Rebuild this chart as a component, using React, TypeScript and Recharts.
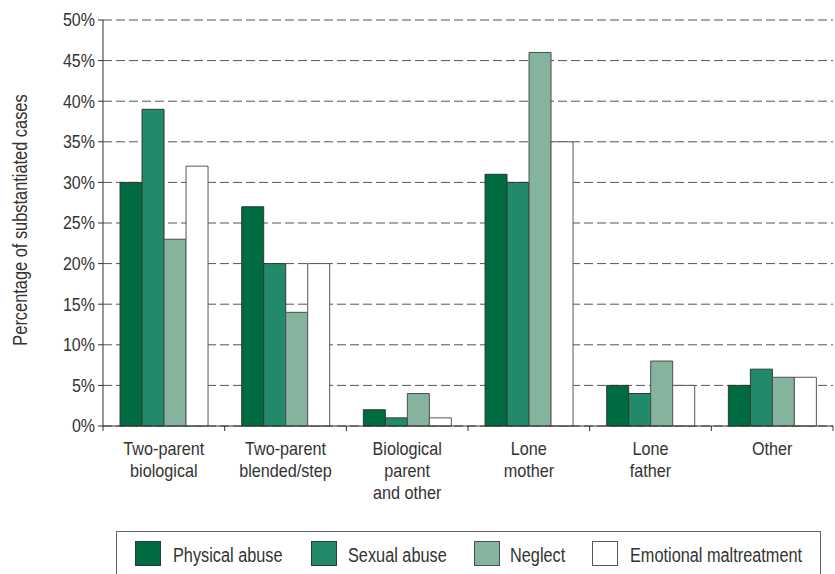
import React from 'react';
import { BarChart, Bar, XAxis, YAxis, CartesianGrid, Legend } from 'recharts';

const categories = [
  'Two-parent\nbiological',
  'Two-parent\nblended/step',
  'Biological\nparent\nand other',
  'Lone\nmother',
  'Lone\nfather',
  'Other',
];
const physicalAbuse = [30, 27, 2, 31, 5, 5];
const sexualAbuse = [39, 20, 1, 30, 4, 7];
const neglect = [23, 14, 4, 46, 8, 6];
const emotionalMaltreatment = [32, 20, 1, 35, 5, 6];
const yTicks = [0, 5, 10, 15, 20, 25, 30, 35, 40, 45, 50];

const seriesNames = ['Physical abuse', 'Sexual abuse', 'Neglect', 'Emotional maltreatment'];
const seriesColors = ['#006a40', '#228a6a', '#84b39e', '#ffffff'];
const seriesStrokes = ['#2e3a33', '#2e3a33', '#4a4f4c', '#555555'];

const data = categories.map((c, i) => ({
  category: c,
  physical: physicalAbuse[i],
  sexual: sexualAbuse[i],
  neglect: neglect[i],
  emotional: emotionalMaltreatment[i],
}));

const FONT = '"Liberation Sans", Arial, sans-serif';
const TEXT = '#333333';

const CategoryTick = (props: any) => {
  const { x, y, payload, index, visibleTicksCount } = props;
  const lines = String(payload.value).split('\n');
  const half = payload.offset ?? 0;
  return (
    <g>
      <line x1={x - half} x2={x - half} y1={y} y2={y + 5} stroke="#333" />
      {index === visibleTicksCount - 1 && (
        <line x1={x + half} x2={x + half} y1={y} y2={y + 5} stroke="#333" />
      )}
      <text
        transform={`translate(${x},${y + 29}) scale(0.9,1)`}
        textAnchor="middle"
        fill={TEXT}
        fontFamily={FONT}
        fontSize={18}
      >
        {lines.map((l, i) => (
          <tspan key={i} x={0} dy={i === 0 ? 0 : 22}>
            {l}
          </tspan>
        ))}
      </text>
    </g>
  );
};

const YTick = (props: any) => {
  const { x, y, payload } = props;
  return (
    <text
      transform={`translate(${x},${y}) scale(0.89,1)`}
      textAnchor="end"
      dy="0.36em"
      fill={TEXT}
      fontFamily={FONT}
      fontSize={18}
    >
      {`${payload.value}%`}
    </text>
  );
};

const legendSquareX = [19, 195, 358, 476];
const legendTextX = [57, 232, 394, 514];

const renderLegend = () => (
  <div
    style={{
      boxSizing: 'border-box',
      width: 705,
      height: 48,
      borderTop: '1.5px solid #666',
      borderLeft: '1.5px solid #666',
      borderRight: '1.5px solid #666',
      position: 'relative',
    }}
  >
    <svg width={705} height={48} style={{ position: 'absolute', left: -1, top: -1 }}>
      {seriesNames.map((n, i) => (
        <g key={n}>
          <rect
            x={legendSquareX[i] + 0.5}
            y={10.5}
            width={25}
            height={24}
            fill={seriesColors[i]}
            stroke={seriesStrokes[i]}
          />
          <text
            transform={`translate(${legendTextX[i]},31) scale(0.815,1)`}
            fill={TEXT}
            fontFamily={FONT}
            fontSize={20}
          >
            {n}
          </text>
        </g>
      ))}
    </svg>
  </div>
);

const YLabel = (props: any) => {
  const { viewBox } = props;
  const cx = viewBox.x + 27;
  const cy = viewBox.y + viewBox.height / 2 - 3;
  return (
    <text
      transform={`translate(${cx},${cy}) rotate(-90) scale(0.82,1)`}
      textAnchor="middle"
      fill={TEXT}
      fontFamily={FONT}
      fontSize={20}
    >
      Percentage of substantiated cases
    </text>
  );
};

export default function App() {
  return (
    <div style={{ position: 'absolute', left: 0, top: 0, width: 835, height: 574, background: '#fff', overflow: 'hidden' }}>
      <BarChart
        width={835}
        height={574}
        data={data}
        margin={{ top: 20, right: 2, bottom: 30, left: 0 }}
        barCategoryGap="14%"
        barGap={0}
      >
        <CartesianGrid vertical={false} stroke="#555" strokeDasharray="9 4" />
        <XAxis
          dataKey="category"
          interval={0}
          height={70}
          tickSize={0}
          tickMargin={0}
          tickLine={false}
          axisLine={{ stroke: '#333' }}
          tick={<CategoryTick />}
        />
        <YAxis
          width={103}
          domain={[0, 50]}
          ticks={yTicks}
          interval={0}
          tickSize={5}
          tickMargin={3}
          axisLine={{ stroke: '#333' }}
          tickLine={{ stroke: '#333' }}
          tick={<YTick />}
          label={<YLabel />}
        />
        <Legend
          verticalAlign="bottom"
          content={renderLegend}
          wrapperStyle={{ position: 'absolute', left: 116, top: 531, bottom: 'auto', width: 705, height: 48 }}
        />
        <Bar dataKey="physical" name={seriesNames[0]} fill={seriesColors[0]} stroke={seriesStrokes[0]} isAnimationActive={false} />
        <Bar dataKey="sexual" name={seriesNames[1]} fill={seriesColors[1]} stroke={seriesStrokes[1]} isAnimationActive={false} />
        <Bar dataKey="neglect" name={seriesNames[2]} fill={seriesColors[2]} stroke={seriesStrokes[2]} isAnimationActive={false} />
        <Bar dataKey="emotional" name={seriesNames[3]} fill={seriesColors[3]} stroke={seriesStrokes[3]} isAnimationActive={false} />
      </BarChart>
    </div>
  );
}
